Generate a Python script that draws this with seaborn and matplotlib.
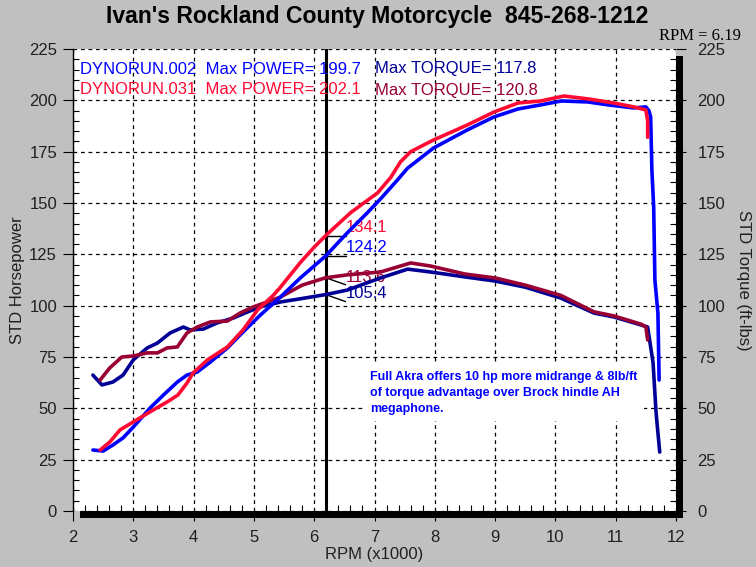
import matplotlib
matplotlib.use("Agg")
import matplotlib.pyplot as plt
import seaborn as sns
import pandas as pd
import numpy as np
from matplotlib.patches import Rectangle
from matplotlib.ticker import MultipleLocator

# ---------------- data ----------------
rpm_hp_002 = [2.33, 2.50, 2.66, 2.83, 3.00, 3.28, 3.50, 3.73, 3.89, 4.06, 4.28, 4.56, 4.82, 5.11,
              5.44, 5.77, 6.19, 6.55, 6.88, 7.10, 7.38, 7.55, 7.98, 8.54, 8.98, 9.38, 9.76, 10.10,
              10.54, 10.87, 11.30, 11.50, 11.55, 11.58, 11.60, 11.63, 11.65, 11.70, 11.72]
hp_002 = [29.7, 29.2, 32.1, 35.6, 40.9, 50.2, 56.5, 62.8, 66.2, 67.7, 72.6, 79.4, 87.2, 95.5,
          104.2, 113.5, 124.2, 135.5, 145.2, 152.0, 161.2, 167.0, 176.8, 185.6, 191.9, 195.8, 197.8, 199.7,
          199.2, 197.8, 196.3, 196.8, 195.0, 191.9, 166.0, 148.0, 112.5, 96.4, 63.8]

rpm_hp_031 = [2.45, 2.61, 2.78, 3.00, 3.33, 3.56, 3.74, 3.89, 3.99, 4.23, 4.56, 4.82, 5.06, 5.32,
              5.44, 5.77, 6.00, 6.19, 6.60, 7.05, 7.27, 7.43, 7.60, 7.98, 8.54, 8.98, 9.38, 9.76, 10.14,
              10.54, 10.97, 11.30, 11.50, 11.53, 11.53]
hp_031 = [29.7, 33.6, 39.5, 43.4, 49.2, 53.1, 56.5, 62.3, 67.2, 73.6, 79.9, 88.2, 97.9, 105.0,
          109.0, 121.0, 128.5, 134.1, 145.2, 154.9, 162.5, 170.0, 175.0, 180.7, 188.0, 194.3, 198.7, 199.7, 202.1,
          200.7, 198.7, 196.8, 195.3, 190.0, 182.0]

rpm_tq_002 = [2.33, 2.48, 2.66, 2.83, 3.00, 3.23, 3.40, 3.61, 3.83, 3.94, 4.16, 4.39, 4.66, 4.89,
              5.11, 5.44, 5.80, 6.19, 6.55, 7.10, 7.55, 7.93, 8.50, 9.00, 9.50, 10.09, 10.64, 10.97,
              11.42, 11.53, 11.62, 11.67, 11.73]
tq_002 = [66.2, 61.4, 62.8, 66.2, 73.6, 79.4, 81.8, 86.7, 89.6, 88.2, 88.6, 91.6, 94.0, 96.9,
          99.4, 101.8, 103.5, 105.4, 107.6, 113.5, 117.8, 116.4, 114.0, 112.0, 109.0, 103.7, 96.4, 94.5,
          90.6, 89.6, 72.0, 47.7, 28.7]

rpm_tq_031 = [2.45, 2.61, 2.81, 3.00, 3.23, 3.40, 3.56, 3.73, 3.89, 4.06, 4.28, 4.56, 4.77, 4.99,
              5.22, 5.44, 5.80, 6.19, 6.55, 7.10, 7.60, 7.93, 8.50, 9.00, 9.50, 10.09, 10.64, 10.97,
              11.42, 11.50, 11.53]
tq_031 = [63.8, 69.7, 75.0, 75.5, 77.0, 77.0, 79.4, 79.9, 86.7, 89.6, 92.1, 92.5, 96.4, 99.4,
          101.8, 104.2, 110.0, 113.6, 115.0, 116.4, 120.8, 119.3, 115.4, 113.5, 110.0, 105.0, 97.0, 95.0,
          91.0, 89.6, 83.3]

cursor_rpm = 6.19
cursor_hp = [134.1, 124.2]        # run .031, run .002
cursor_tq = [113.6, 105.4]        # run .031, run .002

title = "Ivan's Rockland County Motorcycle  845-268-1212"
legend_rows = [("DYNORUN.002  Max POWER= 199.7", "Max TORQUE= 117.8"),
               ("DYNORUN.031  Max POWER= 202.1", "Max TORQUE= 120.8")]
note = "Full Akra offers 10 hp more midrange & 8lb/ft\nof torque advantage over Brock hindle AH\nmegaphone."

x_ticks = list(range(2, 13))
y_ticks = list(range(0, 226, 25))

# ---------------- style ----------------
C_BLUE = "#0000ff"
C_RED = "#ff0a32"
C_NAVY = "#000096"
C_MAROON = "#990033"
BG = "#c0c0c0"

sns.set_theme(style="white")
plt.rcParams["font.family"] = ["Liberation Sans", "DejaVu Sans"]

W, H = 756, 567
fig = plt.figure(figsize=(W / 100, H / 100), dpi=100, facecolor=BG)
L, R, T, B = 73, 676, 49, 511
ax = fig.add_axes([L / W, (H - B) / H, (R - L) / W, (B - T) / H], facecolor="white")
ax.set_zorder(1)

# drop shadow
fig.patches.append(Rectangle(((L + 7) / W, (H - B - 7) / H), (R - L) / W, (B - T) / H,
                             transform=fig.transFigure, facecolor="black", edgecolor="none", zorder=0))

def series(x, y, name):
    return pd.DataFrame({"rpm": x, "val": y, "run": name})

sns.lineplot(data=series(rpm_tq_002, tq_002, "t2"), x="rpm", y="val", sort=False, estimator=None,
             color=C_NAVY, lw=2.6, ax=ax, zorder=4)
sns.lineplot(data=series(rpm_tq_031, tq_031, "t31"), x="rpm", y="val", sort=False, estimator=None,
             color=C_MAROON, lw=2.6, ax=ax, zorder=4)
sns.lineplot(data=series(rpm_hp_002, hp_002, "h2"), x="rpm", y="val", sort=False, estimator=None,
             color=C_BLUE, lw=2.6, ax=ax, zorder=4)
sns.lineplot(data=series(rpm_hp_031, hp_031, "h31"), x="rpm", y="val", sort=False, estimator=None,
             color=C_RED, lw=2.6, ax=ax, zorder=4)

ax.set_xlim(2, 12)
ax.set_ylim(0, 225)
ax.set_xticks(x_ticks)
ax.set_yticks(y_ticks)
ax.xaxis.set_minor_locator(MultipleLocator(0.2))
ax.yaxis.set_minor_locator(MultipleLocator(5))
ax.grid(True, which="major", color="black", linestyle=(0, (3, 3)), linewidth=0.9, zorder=1)
ax.set_axisbelow(True)

for s in ["top", "right", "bottom"]:
    ax.spines[s].set_visible(False)
ax.spines["left"].set_color("black")
ax.spines["left"].set_linewidth(1.0)

ax.tick_params(axis="both", which="major", direction="out", length=7, width=0.8, color="black",
               labelsize=12, labelcolor="#202020")
ax.tick_params(axis="y", which="major", pad=4.5, left=True)
ax.tick_params(axis="x", which="major", pad=7, bottom=True)
ax.tick_params(axis="both", which="minor", direction="in", length=4, width=0.8, color="black")
ax.tick_params(axis="y", which="minor", left=True, right=True)
ax.tick_params(axis="x", which="minor", bottom=True)

ax2 = ax.twinx()
ax2.set_ylim(0, 225)
ax2.set_yticks(y_ticks)
ax2.yaxis.set_minor_locator(MultipleLocator(5))
for s in ax2.spines.values():
    s.set_visible(False)
ax2.tick_params(axis="y", which="major", direction="out", length=7, width=0.8, color="black",
                labelsize=12, labelcolor="#202020", pad=8.5)
ax2.tick_params(axis="y", which="minor", direction="in", length=4, width=0.8, color="black")
ax2.grid(False)

ax.set_xlabel("RPM (x1000)", fontsize=12, color="#202020", labelpad=1)
ax.set_ylabel("STD Horsepower", fontsize=12, color="#202020", labelpad=3)
ax2.set_ylabel("STD Torque (ft-lbs)", fontsize=12, color="#202020", rotation=270, labelpad=18)

# cursor
ax.axvline(cursor_rpm, color="black", lw=2.2, zorder=3)
dx = 0.33
for v, c in zip(cursor_hp, [C_RED, C_BLUE]):
    ax.plot([cursor_rpm, cursor_rpm + dx], [v, v], color="black", lw=1.0, zorder=3)
    ax.text(cursor_rpm + dx, v + 4.0, f"{v:.1f}", color=c, fontsize=12, va="center", ha="left", zorder=2)
for v, c in zip(cursor_tq, [C_MAROON, C_NAVY]):
    ax.plot([cursor_rpm, cursor_rpm + dx], [v, v - 3.4], color="black", lw=1.0, zorder=3)
    ax.text(cursor_rpm + dx, v + 0.3, f"{v:.1f}", color=c, fontsize=12, va="center", ha="left", zorder=2)

# legend rows
row_colors = [(C_BLUE, C_NAVY), (C_RED, C_MAROON)]
for i, ((a, b), (ca, cb)) in enumerate(zip(legend_rows, row_colors)):
    yy = 1 - (20 + 21 * i) / (B - T)
    ax.text((80 - L) / (R - L), yy, a, transform=ax.transAxes, color=ca, fontsize=12, va="center", ha="left", zorder=5)
    ax.text((375 - L) / (R - L), yy, b, transform=ax.transAxes, color=cb, fontsize=12, va="center", ha="left", zorder=5)

# note
ax.text(6.93, 68.0, note, color=C_BLUE, fontsize=9, fontweight="bold", va="top", ha="left",
        linespacing=1.4, zorder=2,
        bbox=dict(facecolor="white", edgecolor="none", boxstyle="square,pad=0.5"))

fig.text(377 / W, 1 - 16 / H, title, ha="center", va="center", fontsize=16.6, fontweight="bold",
         color="black")
fig.text(741 / W, 1 - 36 / H, "RPM = 6.19", ha="right", va="center", fontsize=12,
         family=["Liberation Serif", "DejaVu Serif"], color="black")

fig.savefig("out.png", dpi=100, facecolor=BG)
